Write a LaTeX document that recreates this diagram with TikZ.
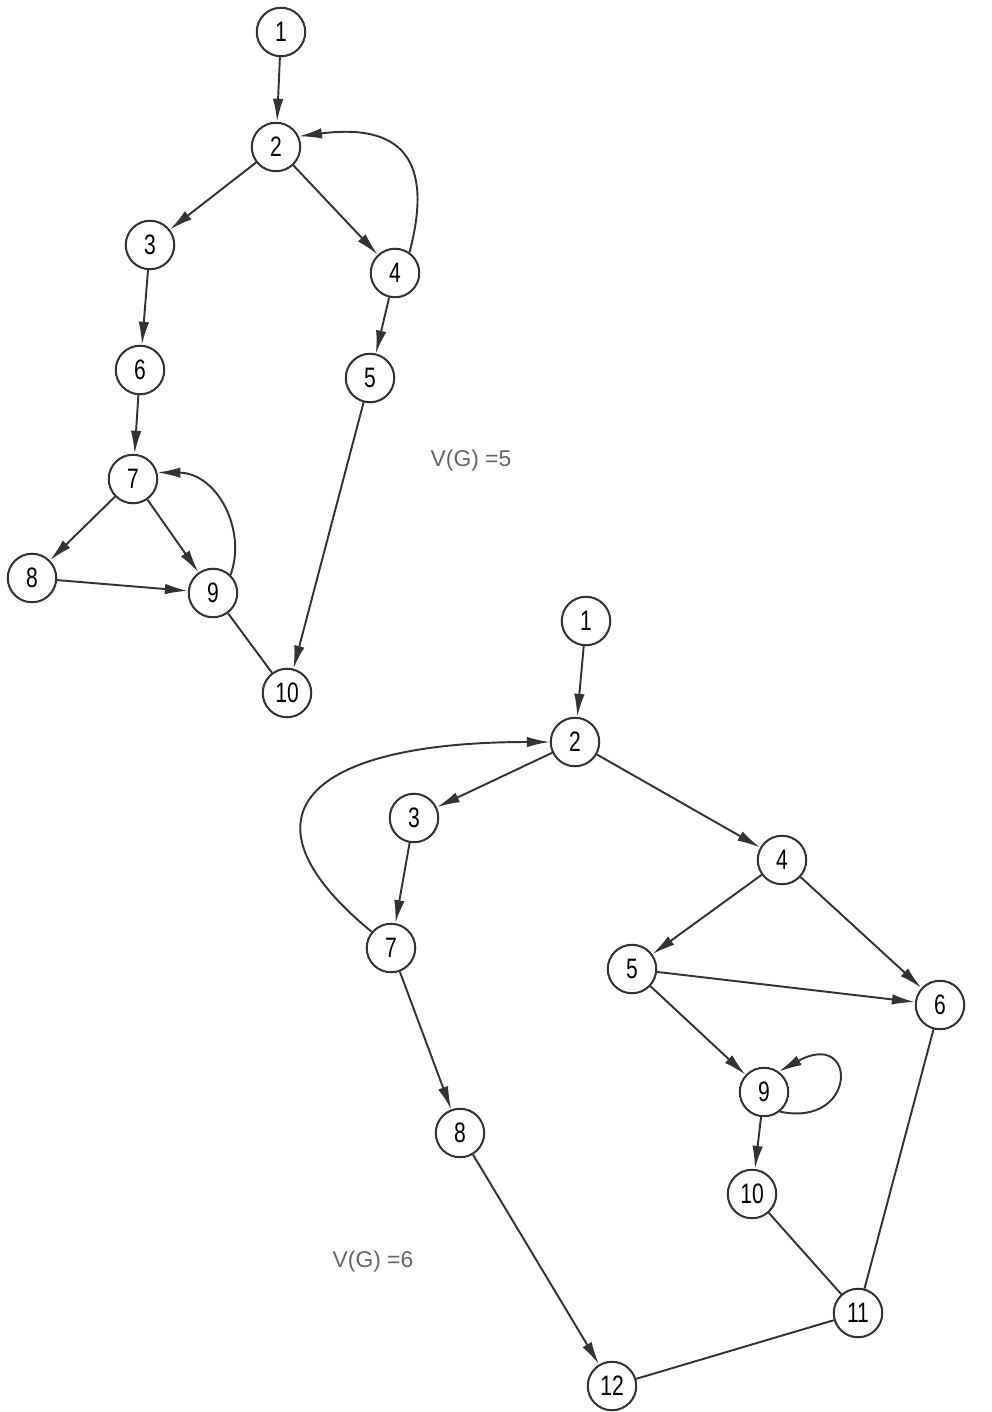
\documentclass[tikz,border=0pt]{standalone}
\usepackage{fontspec}
\newfontfamily\graphfont[FakeStretch=0.75]{Liberation Sans}
\newfontfamily\labelfont{Liberation Sans}
\usetikzlibrary{arrows.meta}

\begin{document}
\begin{tikzpicture}[x=0.02cm,y=-0.02cm,
    vtx/.style={circle,draw=black!80,line width=1.15pt,fill=white,minimum size=0.97cm,inner sep=0pt,
      font=\graphfont\fontsize{16}{18}\selectfont},
    arr/.style={-{Latex[length=0.46cm,width=0.21cm]}},
    lbl/.style={text=black!60,font=\labelfont\fontsize{13}{15}\selectfont}]
  \useasboundingbox (0,0) rectangle (991,1412);
  \tikzset{every path/.style={draw=black!80,line width=1.1pt}}

  % first graph
  \node[vtx] (t1) at (281,32) {1};
  \node[vtx] (t2) at (276,147) {2};
  \node[vtx] (t3) at (150,245) {3};
  \node[vtx] (t4) at (395,273) {4};
  \node[vtx] (t5) at (370,378) {5};
  \node[vtx] (t6) at (140,370) {6};
  \node[vtx] (t7) at (133,479) {7};
  \node[vtx] (t8) at (32,578) {8};
  \node[vtx] (t9) at (213,593) {9};
  \node[vtx] (t10) at (287,693) {10};
  \node[lbl] (tv) at (471,461) {V(G) =5};

  \draw[arr] (t1) -- (t2);
  \draw[arr] (t2) -- (t3);
  \draw[arr] (t2) -- (t4);
  \draw[arr] (t4.55) .. controls (434,160) and (402,123) .. (t2.25);
  \draw[arr] (t3) -- (t6);
  \draw[arr] (t4) -- (t5);
  \draw[arr] (t6) -- (t7);
  \draw[arr] (t7) -- (t8);
  \draw[arr] (t7) -- (t9);
  \draw[arr] (t9.46) .. controls (247,530) and (217,473) .. (t7.15);
  \draw[arr] (t8) -- (t9);
  \draw (t9) -- (t10);
  \draw[arr] (t5) -- (t10);

  % second graph
  \node[vtx] (b1) at (586,621) {1};
  \node[vtx] (b2) at (575,742) {2};
  \node[vtx] (b3) at (414,818) {3};
  \node[vtx] (b4) at (782,860) {4};
  \node[vtx] (b5) at (632,969) {5};
  \node[vtx] (b6) at (940,1005) {6};
  \node[vtx] (b7) at (391,948) {7};
  \node[vtx] (b8) at (460,1133) {8};
  \node[vtx] (b9) at (764,1092) {9};
  \node[vtx] (b10) at (752,1194) {10};
  \node[vtx] (b11) at (858,1313) {11};
  \node[vtx] (b12) at (612,1386) {12};
  \node[lbl] (bv) at (373,1262) {V(G) =6};

  \draw[arr] (b1) -- (b2);
  \draw[arr] (b2) -- (b3);
  \draw[arr] (b2) -- (b4);
  \draw[arr] (b7.140) .. controls +(-140,-115) and +(-245,0) .. (b2.west);
  \draw[arr] (b3) -- (b7);
  \draw[arr] (b4) -- (b5);
  \draw[arr] (b4) -- (b6);
  \draw[arr] (b5) -- (b6);
  \draw[arr] (b5) -- (b9);
  \draw[arr] (b9.-51) .. controls (858,1128) and (858,1028) .. (b9.54);
  \draw[arr] (b9) -- (b10);
  \draw (b10) -- (b11);
  \draw (b6) -- (b11);
  \draw[arr] (b7) -- (b8);
  \draw[arr] (b8) -- (b12);
  \draw (b11) -- (b12);
\end{tikzpicture}
\end{document}
